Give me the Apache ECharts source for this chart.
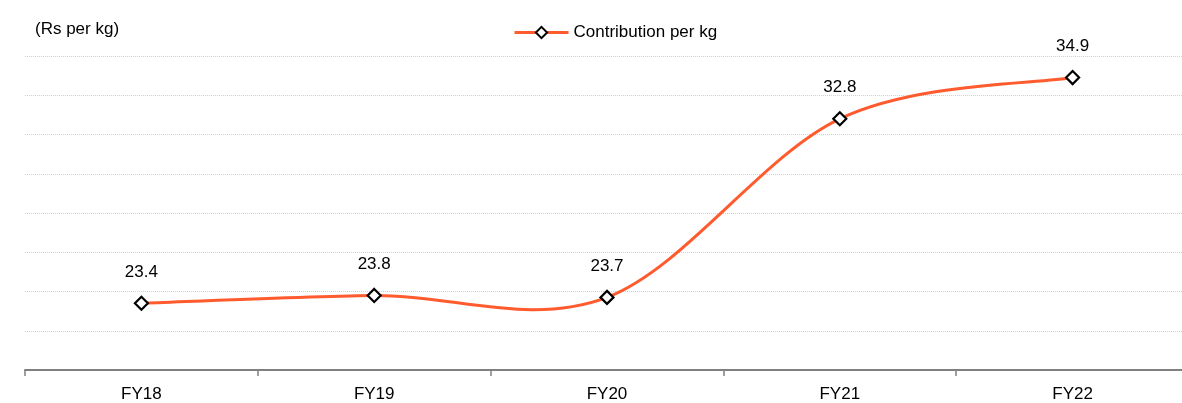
<!DOCTYPE html>
<html>
<head>
<meta charset="utf-8">
<script src="https://cdn.jsdelivr.net/npm/echarts@6/dist/echarts.min.js"></script>
<style>
  html, body { margin: 0; padding: 0; background: #fff; overflow: hidden; }
  #chart { width: 1192px; height: 403px; }
</style>
</head>
<body>
<div id="chart"></div>
<script>
const years = ["FY18", "FY19", "FY20", "FY21", "FY22"];
const contribution = [23.4, 23.8, 23.7, 32.8, 34.9];

const chart = echarts.init(document.getElementById("chart"));
const font = "Liberation Sans, Arial, sans-serif";
const orange = "#FF5B2E";

// Excel-style smoothed curve (cardinal spline, 1/6 tangents) drawn segment by segment
function renderCurve(params, api) {
  const i = params.dataIndex;
  const n = contribution.length;
  if (i >= n - 1) return null;
  const p = contribution.map((v, k) => api.coord([k, v]));
  const p0 = p[Math.max(i - 1, 0)], p1 = p[i], p2 = p[i + 1], p3 = p[Math.min(i + 2, n - 1)];
  const c1 = [p1[0] + (p2[0] - p0[0]) / 6, p1[1] + (p2[1] - p0[1]) / 6];
  const c2 = [p2[0] - (p3[0] - p1[0]) / 6, p2[1] - (p3[1] - p1[1]) / 6];
  return {
    type: "path",
    shape: {
      pathData: `M${p1[0]} ${p1[1]} C${c1[0]} ${c1[1]} ${c2[0]} ${c2[1]} ${p2[0]} ${p2[1]}`,
    },
    style: { fill: null, stroke: orange, lineWidth: 3 },
  };
}

chart.setOption({
  backgroundColor: "#fff",
  animation: false,
  title: {
    text: "(Rs per kg)",
    left: 30,
    top: 16,
    textStyle: { fontFamily: font, fontSize: 17, fontWeight: "normal", color: "#000" },
  },
  legend: {
    data: ["Contribution per kg"],
    left: 508,
    top: 19,
    itemWidth: 54,
    itemHeight: 14,
    itemGap: 6,
    textStyle: { fontFamily: font, fontSize: 17, color: "#000" },
    lineStyle: { color: orange, width: 3, opacity: 1 },
  },
  grid: { left: 25, top: 56, width: 1164, bottom: 33 },
  xAxis: {
    type: "category",
    data: years,
    axisLine: { lineStyle: { color: "#808080", width: 2 } },
    axisTick: { show: true, length: 6, lineStyle: { color: "#808080", width: 1.5 } },
    axisLabel: { fontFamily: font, fontSize: 17, color: "#000", margin: 16 },
  },
  yAxis: {
    type: "value",
    min: 20,
    max: 36,
    interval: 2,
    axisLabel: { show: false },
    axisLine: { show: false },
    axisTick: { show: false },
    splitLine: { lineStyle: { color: "#d0d0d0", type: "dotted", width: 1 } },
  },
  series: [
    {
      name: "curve",
      type: "custom",
      coordinateSystem: "cartesian2d",
      data: contribution.map((v, i) => [i, v]),
      encode: { x: 0, y: 1 },
      renderItem: renderCurve,
      silent: true,
      z: 2,
    },
    {
      name: "Contribution per kg",
      type: "line",
      data: contribution,
      symbol: "diamond",
      symbolSize: 13,
      lineStyle: { color: orange, width: 3, opacity: 0 },
      itemStyle: { color: "#fff", borderColor: "#000", borderWidth: 2.2 },
      z: 3,
      label: {
        show: true,
        position: "top",
        distance: 15,
        fontFamily: font,
        fontSize: 17,
        color: "#000",
        formatter: (p) => p.value.toFixed(1),
      },
    },
  ],
});
</script>
</body>
</html>
